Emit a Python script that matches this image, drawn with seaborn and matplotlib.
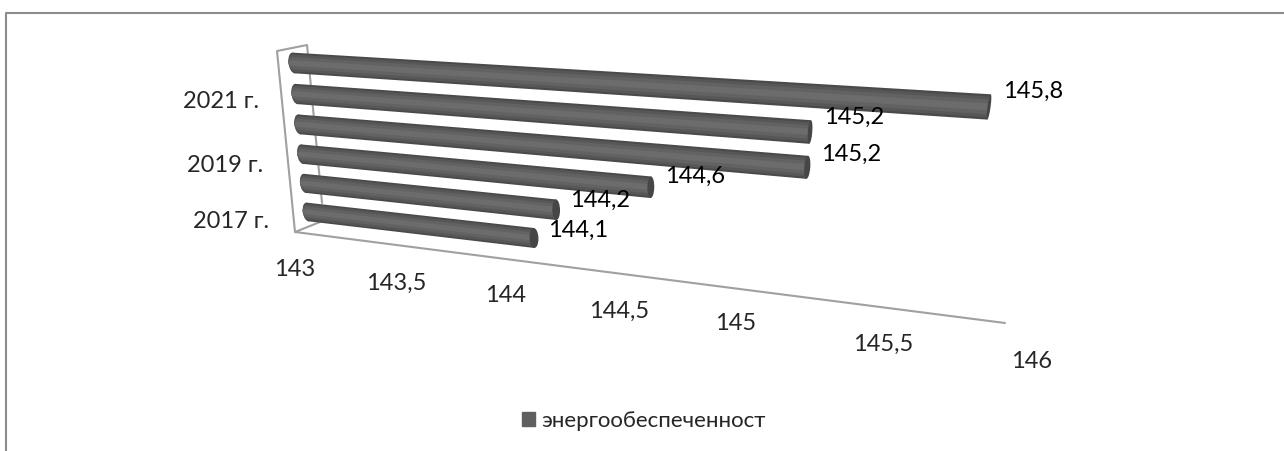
"""Perspective cylinder bar chart, energy supply by year."""

import matplotlib
matplotlib.use("Agg")
import matplotlib.pyplot as plt
import matplotlib.transforms as mtransforms
from matplotlib.patches import Ellipse, Patch
import numpy as np
import pandas as pd
import seaborn as sns

YEARS = ["2017 г.", "2018 г.", "2019 г.", "2020 г.", "2021 г.", "2022 г."]
VALUES = [144.1, 144.2, 144.6, 145.2, 145.2, 145.8]
VALUE_LABELS = ["144,1", "144,2", "144,6", "145,2", "145,2", "145,8"]
SHOWN_YEARS = ["2017 г.", "2019 г.", "2021 г."]
TICK_LABELS = ["143", "143,5", "144", "144,5", "145", "145,5", "146"]
SERIES_NAME = "энергообеспеченност"

BASE = 143.0
W, H = 1284, 451

# layout, in reference pixels
TICK_POS = [(295, 270), (396, 283), (506, 295), (619, 311), (736, 324), (883, 344), (1032, 362)]
YEAR_POS = [(231, 221), (225, 165), (221, 102)]
WALL = [(295, 232), (277, 51), (307, 45), (322, 203)]
FLOOR = [(320, 222), (295, 232), (1005, 323)]
SHADES = [(0.66, "#4a4a4a"), (0.54, "#575757"), (0.38, "#626262"), (0.18, "#6c6c6c")]

sns.set_theme(style="white")
plt.rcParams["font.family"] = ["Lato", "Noto Sans", "DejaVu Sans"]


class Projective(mtransforms.Transform):
    """Homography from (value, row) to display pixels."""

    input_dims = 2
    output_dims = 2

    def __init__(self, src, dst):
        super().__init__()
        rows, rhs = [], []
        for (x, y), (u, v) in zip(src, dst):
            rows.append([x, y, 1, 0, 0, 0, -u * x, -u * y])
            rows.append([0, 0, 0, x, y, 1, -v * x, -v * y])
            rhs += [u, v]
        self.m = np.append(np.linalg.solve(np.array(rows), np.array(rhs)), 1).reshape(3, 3)

    def transform_non_affine(self, values):
        pts = np.column_stack([values, np.ones(len(values))]) @ self.m.T
        return pts[:, :2] / pts[:, 2:]


def to_display(p):
    return (p[0], H - p[1])


# anchors: bar ends, less half a cap
proj = Projective(
    [(143, 0), (143, 5), (144.1, 0), (145.8, 5)],
    [to_display(p) for p in [(307.5, 212), (293.5, 63), (534, 238), (989, 107)]],
)
pix = mtransforms.Affine2D().scale(1, -1).translate(0, H)

df = pd.DataFrame({"year": YEARS, "value": VALUES})

fig = plt.figure(figsize=(W / 100, H / 100), dpi=100)
ax = fig.add_axes([0, 0, 1, 1])

for layer, (width, shade) in enumerate(SHADES):
    n_before = len(ax.patches)
    sns.barplot(data=df, x="value", y="year", orient="h", width=width,
                color=shade, saturation=1, ax=ax)
    for bar in ax.patches[n_before:]:
        bar.set_width(bar.get_width() - BASE)
        bar.set_x(BASE)
        bar.set_transform(proj)
        bar.set_clip_on(False)
        bar.set_linewidth(0)
        bar.set_zorder(3 + layer * 0.1)
    # round start of the tube
    for i in range(len(YEARS)):
        ax.add_patch(Ellipse((BASE, i), 0.05, width, color=shade, lw=0,
                             transform=proj, clip_on=False, zorder=3 + layer * 0.1))

# end caps, flatter towards the top row
for i, val in enumerate(VALUES):
    cap = 0.04 - 0.006 * i
    ax.add_patch(Ellipse((val, i), cap, 0.66, color="#464646", lw=0,
                         transform=proj, clip_on=False, zorder=4))
    ax.annotate(VALUE_LABELS[i], (val, i), xycoords=proj, xytext=(44, 8 + i * 1.6),
                textcoords="offset pixels", ha="center", va="center",
                fontsize=17, color="black", zorder=5, annotation_clip=False)

ax.axis("off")

# back wall, floor and chart frame
grey = "#a0a0a0"
ax.plot(*zip(*WALL), color=grey, lw=1.5, transform=pix, clip_on=False, zorder=1)
ax.plot(*zip(*FLOOR), color=grey, lw=1.5, transform=pix, clip_on=False, zorder=1)
ax.plot([6, 6, W], [H, 13, 13], color="#8c8c8c", lw=1.5, transform=pix, clip_on=False)

for label, pos in zip(TICK_LABELS, TICK_POS):
    ax.text(*pos, label, transform=pix, ha="center", va="center", fontsize=17)
for label, pos in zip(SHOWN_YEARS, YEAR_POS):
    ax.text(*pos, label, transform=pix, ha="center", va="center", fontsize=17)

fig.legend(handles=[Patch(color="#5f5f5f", label=SERIES_NAME)],
           loc="center", bbox_to_anchor=(644, 421), bbox_transform=pix,
           frameon=False, fontsize=16, handlelength=0.6, handleheight=0.6,
           handletextpad=0.3)

fig.savefig("out.png", dpi=100)
